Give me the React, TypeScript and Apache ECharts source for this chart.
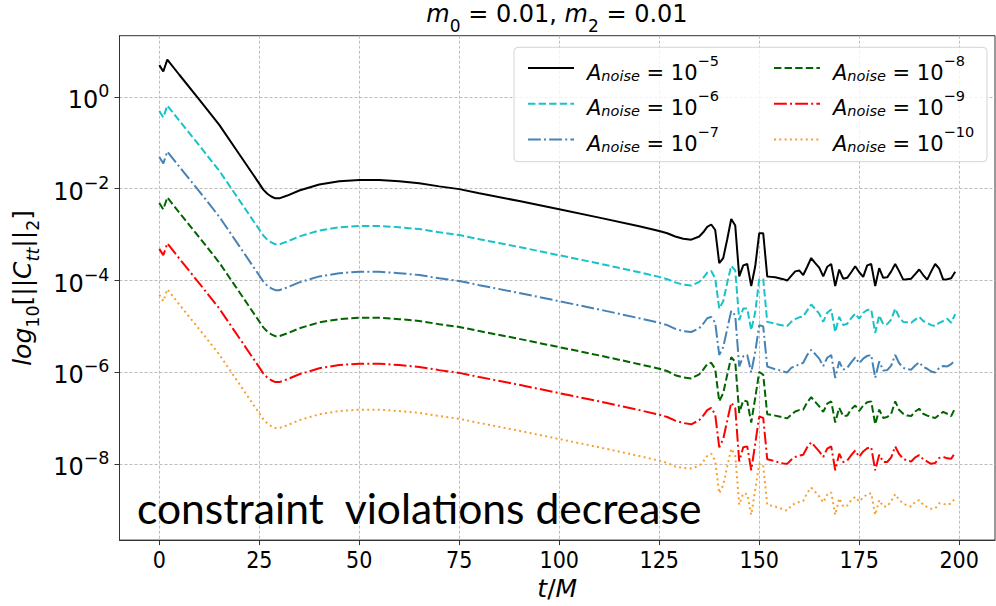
import React, { useEffect, useRef } from 'react';
import * as echarts from 'echarts';

// sample times t/M
const T = [
  0, 1, 2, 5, 10, 15, 20, 25, 26, 27, 28, 29, 30, 32, 35, 40, 45, 50, 55, 60, 65, 70, 75, 80, 90, 100, 110, 120, 125, 127, 129, 131, 133,
  135, 136, 137, 138, 139, 140, 141, 142, 143, 144,
  145, 146, 147, 148, 149, 150, 151, 152, 153, 154,
  155, 156, 157, 158, 159, 160, 161, 162, 163, 164,
  165, 166, 167, 168, 169, 170, 171, 172, 173, 174,
  175, 176, 177, 178, 179, 180, 181, 182, 183, 184,
  185, 186, 187, 188, 189, 190, 191, 192, 193, 194,
  195, 196, 197, 198, 199,
];

// log10 of ||C_tt||_2 for each noise amplitude
const NOISE_1E5 = [
  0.69, 0.55, 0.81, 0.48, -0.06, -0.61, -1.25, -1.89, -2.02, -2.11, -2.17, -2.21, -2.21, -2.15, -2.04, -1.91, -1.84, -1.81, -1.81, -1.84, -1.88, -1.95, -2.01, -2.10, -2.27, -2.45, -2.63, -2.82, -2.92, -2.97, -3.04, -3.09, -3.11,
  -3.04, -2.95, -2.83, -2.78, -2.90, -3.62, -3.51, -3.10, -2.66, -2.80,
  -3.91, -3.67, -3.64, -4.12, -3.69, -2.97, -2.97, -3.91, -3.92, -3.93,
  -3.95, -3.97, -4.00, -3.90, -3.80, -3.78, -3.88, -3.70, -3.51, -3.62,
  -3.72, -3.91, -3.70, -3.64, -4.12, -3.76, -3.96, -3.94, -3.82, -3.69,
  -3.82, -3.92, -3.67, -3.64, -4.12, -3.73, -3.94, -3.93, -3.80, -3.64,
  -3.80, -3.98, -3.97, -3.96, -3.86, -3.76, -3.88, -3.98, -3.80, -3.64,
  -3.74, -3.98, -3.97, -3.95, -3.81,
];
const NOISE_1E6 = [
  -0.31, -0.45, -0.19, -0.52, -1.06, -1.61, -2.25, -2.89, -3.02, -3.11, -3.17, -3.21, -3.21, -3.15, -3.04, -2.91, -2.84, -2.81, -2.81, -2.84, -2.88, -2.95, -3.01, -3.10, -3.27, -3.45, -3.63, -3.82, -3.92, -3.97, -4.04, -4.09, -4.11,
  -4.03, -3.94, -3.83, -3.79, -3.95, -4.61, -4.45, -4.05, -3.68, -3.78,
  -4.86, -4.61, -4.61, -5.08, -4.69, -3.97, -3.97, -4.90, -4.92, -4.94,
  -4.96, -4.98, -4.99, -4.90, -4.84, -4.80, -4.78, -4.65, -4.52, -4.62,
  -4.72, -4.90, -4.70, -4.63, -5.12, -4.79, -4.97, -4.94, -4.82, -4.72,
  -4.83, -4.70, -4.64, -4.63, -5.14, -4.76, -4.95, -4.95, -4.85, -4.61,
  -4.80, -4.90, -4.91, -4.92, -4.85, -4.79, -4.88, -4.92, -4.97, -4.99,
  -4.92, -4.88, -4.83, -4.92, -4.73,
];
const NOISE_1E7 = [
  -1.31, -1.45, -1.19, -1.52, -2.06, -2.61, -3.25, -3.89, -4.02, -4.11, -4.17, -4.21, -4.21, -4.15, -4.04, -3.91, -3.84, -3.81, -3.81, -3.84, -3.88, -3.95, -4.01, -4.10, -4.27, -4.45, -4.63, -4.82, -4.92, -4.97, -5.05, -5.10, -5.12,
  -5.04, -4.94, -4.82, -4.79, -4.92, -5.62, -5.45, -5.05, -4.66, -4.76,
  -5.87, -5.65, -5.62, -6.00, -5.55, -4.97, -5.00, -5.87, -5.90, -5.93,
  -5.95, -5.98, -6.00, -5.90, -5.86, -5.83, -5.79, -5.62, -5.51, -5.60,
  -5.70, -5.86, -5.68, -5.62, -6.12, -5.76, -5.94, -5.90, -5.78, -5.67,
  -5.80, -5.70, -5.64, -5.62, -6.12, -5.76, -5.96, -5.95, -5.85, -5.62,
  -5.80, -5.90, -5.93, -5.94, -5.85, -5.78, -5.88, -5.92, -5.98, -6.00,
  -5.90, -5.86, -5.87, -5.82, -5.73,
];
const NOISE_1E8 = [
  -2.31, -2.45, -2.19, -2.52, -3.06, -3.61, -4.25, -4.89, -5.02, -5.11, -5.17, -5.21, -5.21, -5.15, -5.04, -4.91, -4.84, -4.81, -4.81, -4.84, -4.88, -4.95, -5.01, -5.10, -5.27, -5.45, -5.63, -5.82, -5.92, -5.97, -6.06, -6.11, -6.13,
  -6.04, -5.94, -5.82, -5.79, -5.93, -6.63, -6.45, -6.05, -5.67, -5.77,
  -6.88, -6.61, -6.63, -7.09, -6.55, -5.99, -6.05, -6.91, -6.92, -6.94,
  -6.96, -6.98, -7.00, -6.92, -6.85, -6.82, -6.81, -6.65, -6.54, -6.64,
  -6.74, -6.86, -6.68, -6.63, -7.09, -6.77, -6.95, -6.94, -6.80, -6.72,
  -6.84, -6.72, -6.65, -6.63, -7.13, -6.81, -6.99, -6.97, -6.90, -6.63,
  -6.82, -6.90, -6.94, -6.95, -6.85, -6.79, -6.90, -6.94, -6.97, -6.99,
  -6.92, -6.86, -6.90, -6.95, -6.77,
];
const NOISE_1E9 = [
  -3.31, -3.45, -3.19, -3.52, -4.06, -4.61, -5.25, -5.89, -6.02, -6.11, -6.17, -6.21, -6.21, -6.15, -6.04, -5.91, -5.84, -5.81, -5.81, -5.84, -5.88, -5.95, -6.01, -6.10, -6.27, -6.45, -6.63, -6.82, -6.92, -6.97, -7.05, -7.10, -7.13,
  -7.04, -6.94, -6.82, -6.77, -6.92, -7.63, -7.45, -7.05, -6.66, -6.77,
  -7.94, -7.63, -7.61, -8.13, -7.55, -6.96, -6.99, -7.89, -7.91, -7.94,
  -7.96, -7.98, -7.99, -7.90, -7.84, -7.81, -7.79, -7.63, -7.52, -7.62,
  -7.72, -7.84, -7.66, -7.61, -8.13, -7.77, -7.95, -7.92, -7.80, -7.70,
  -7.84, -7.72, -7.65, -7.63, -8.13, -7.79, -7.95, -7.95, -7.85, -7.61,
  -7.78, -7.88, -7.92, -7.94, -7.85, -7.80, -7.89, -7.94, -7.99, -7.97,
  -7.86, -7.84, -7.87, -7.88, -7.74,
];
const NOISE_1E10 = [
  -4.31, -4.45, -4.19, -4.52, -5.06, -5.61, -6.25, -6.89, -7.02, -7.11, -7.17, -7.21, -7.21, -7.15, -7.04, -6.91, -6.84, -6.81, -6.81, -6.84, -6.88, -6.95, -7.01, -7.10, -7.27, -7.45, -7.63, -7.82, -7.92, -7.97, -8.05, -8.08, -8.09,
  -8.03, -7.94, -7.82, -7.77, -7.92, -8.63, -8.45, -8.05, -7.66, -7.81,
  -8.88, -8.63, -8.65, -9.10, -8.55, -7.99, -8.02, -8.88, -8.90, -8.92,
  -8.95, -8.98, -9.01, -8.90, -8.85, -8.82, -8.80, -8.62, -8.51, -8.60,
  -8.70, -8.83, -8.66, -8.61, -9.10, -8.74, -8.92, -8.90, -8.78, -8.71,
  -8.81, -8.72, -8.65, -8.63, -9.10, -8.78, -8.92, -8.92, -8.80, -8.65,
  -8.78, -8.85, -8.90, -8.92, -8.82, -8.78, -8.88, -8.93, -8.97, -8.96,
  -8.85, -8.86, -8.88, -8.85, -8.74,
];

const SERIES_VALUES = [NOISE_1E5, NOISE_1E6, NOISE_1E7, NOISE_1E8, NOISE_1E9, NOISE_1E10];
const SERIES_EXPONENTS = ['−5', '−6', '−7', '−8', '−9', '−10'];
const SERIES_NAMES = SERIES_EXPONENTS.map((e) => 'A_noise = 10^' + e);
const SERIES_COLORS = ['#000000', '#17c3c8', '#4682b4', '#006400', '#ff0000', '#f7a030'];
const SERIES_DASH: any[] = ['solid', [7.4, 3.2], [12.8, 3.2, 2, 3.2], [7.4, 3.2], [12.8, 3.2, 2, 3.2], [2, 3.3]];

const X_TICKS = [0, 25, 50, 75, 100, 125, 150, 175, 200];
const Y_TICKS = [0, -2, -4, -6, -8];

const FONT = 'DejaVu Sans';

export default function App() {
  const ref = useRef<HTMLDivElement>(null);

  useEffect(() => {
    if (!ref.current) return;
    const chart = echarts.init(ref.current, null, { renderer: 'svg' });

    const legendRich = {
      a: { fontFamily: FONT, fontSize: 21, fontStyle: 'italic', lineHeight: 30, verticalAlign: 'bottom', color: '#000' },
      sub: { fontFamily: FONT, fontSize: 14.5, fontStyle: 'italic', lineHeight: 17, verticalAlign: 'bottom', color: '#000' },
      n: { fontFamily: FONT, fontSize: 21, lineHeight: 30, verticalAlign: 'bottom', color: '#000' },
      sup: { fontFamily: FONT, fontSize: 14.5, lineHeight: 14, verticalAlign: 'top', color: '#000' },
    };
    const legendFormatter = (name: string) => {
      const idx = SERIES_NAMES.indexOf(name);
      return '{a|A}{sub|noise}{n| = 10}{sup|' + SERIES_EXPONENTS[idx] + '}';
    };
    const legendBase = {
      orient: 'vertical',
      top: 48,
      itemWidth: 46,
      itemHeight: 14,
      itemGap: 5.8,
      selectedMode: false,
      formatter: legendFormatter,
      itemStyle: { opacity: 0 },
      textStyle: { rich: legendRich, padding: [0, 0, 0, 8] },
    };

    const option: any = {
      animation: false,
      backgroundColor: '#ffffff',
      grid: {
        left: 119.5,
        right: 1,
        top: 35.7,
        bottom: 61,
        show: true,
        borderColor: '#333',
        borderWidth: 1,
        backgroundColor: 'transparent',
      },
      xAxis: {
        type: 'value',
        min: -9.95,
        max: 208.95,
        name: '{i|t}{n|/}{i|M}',
        nameLocation: 'middle',
        nameGap: 33,
        nameTextStyle: {
          rich: {
            i: { fontFamily: FONT, fontSize: 25, fontStyle: 'italic', color: '#000' },
            n: { fontFamily: FONT, fontSize: 25, color: '#000' },
          },
        },
        axisLine: { show: true, onZero: false, lineStyle: { color: '#333', width: 1 } },
        axisTick: { show: true, length: 5, inside: false, customValues: X_TICKS, lineStyle: { color: '#333' } },
        axisLabel: {
          customValues: X_TICKS,
          margin: 8,
          fontFamily: '"DejaVu Sans Condensed", "DejaVu Sans"',
          fontSize: 23,
          color: '#000',
        },
        splitLine: { show: true, lineStyle: { color: '#bdbdbd', type: [3, 2], width: 1 } },
      },
      yAxis: {
        type: 'value',
        min: -9.65,
        max: 1.33,
        name: '{i|log}{s|10}{n|[||}{i|C}{si|tt}{n|||}{s|2}{n|]}',
        nameLocation: 'middle',
        nameRotate: 90,
        nameGap: 77,
        nameTextStyle: {
          rich: {
            i: { fontFamily: FONT, fontSize: 25, fontStyle: 'italic', lineHeight: 32, verticalAlign: 'top', color: '#000' },
            n: { fontFamily: FONT, fontSize: 25, lineHeight: 32, verticalAlign: 'top', color: '#000' },
            s: { fontFamily: FONT, fontSize: 17.5, lineHeight: 17, verticalAlign: 'bottom', color: '#000' },
            si: { fontFamily: FONT, fontSize: 17.5, fontStyle: 'italic', lineHeight: 17, verticalAlign: 'bottom', color: '#000' },
          },
        },
        axisLine: { show: true, onZero: false, lineStyle: { color: '#333', width: 1 } },
        axisTick: { show: true, length: 5, inside: false, customValues: Y_TICKS, lineStyle: { color: '#333' } },
        axisLabel: {
          customValues: Y_TICKS,
          margin: 10,
          formatter: (v: number) => '{b|10}{s|' + (v === 0 ? '0' : '−' + Math.abs(v)) + '}',
          rich: {
            b: { fontFamily: FONT, fontSize: 24, lineHeight: 30, verticalAlign: 'bottom', color: '#000' },
            s: { fontFamily: FONT, fontSize: 17.5, lineHeight: 16, verticalAlign: 'top', color: '#000' },
          },
        },
        splitLine: { show: true, lineStyle: { color: '#bdbdbd', type: [3, 2], width: 1 } },
      },
      legend: [
        { ...legendBase, left: 522, data: SERIES_NAMES.slice(0, 3) },
        { ...legendBase, left: 768, data: SERIES_NAMES.slice(3) },
      ],
      graphic: [
        {
          type: 'rect',
          z: 3,
          shape: { x: 514, y: 47.3, width: 473, height: 114.4, r: 4 },
          style: { fill: 'rgba(255,255,255,0.8)', stroke: '#d4d4d4', lineWidth: 1 },
        },
        {
          type: 'text',
          z: 5,
          style: {
            x: 557,
            y: 18,
            text: '{i|m}{s|0}{n| = 0.01, }{i|m}{s|2}{n| = 0.01}',
            align: 'center',
            verticalAlign: 'middle',
            textAlign: 'center',
            textVerticalAlign: 'middle',
            rich: {
              i: { fontFamily: FONT, fontSize: 24, fontStyle: 'italic', lineHeight: 32, verticalAlign: 'top', fill: '#000' },
              n: { fontFamily: FONT, fontSize: 24, lineHeight: 32, verticalAlign: 'top', fill: '#000' },
              s: { fontFamily: FONT, fontSize: 17, lineHeight: 17, verticalAlign: 'bottom', fill: '#000' },
            },
          },
        },
        {
          type: 'text',
          z: 5,
          style: {
            x: 137,
            y: 507,
            text: 'constraint  violations decrease',
            font: '42.6px Lato',
            fill: '#000',
            align: 'left',
            verticalAlign: 'middle',
            textAlign: 'left',
            textVerticalAlign: 'middle',
          },
        },
      ],
      series: SERIES_VALUES.map((vals, k) => ({
        type: 'line',
        name: SERIES_NAMES[k],
        data: T.map((t, i) => [t, vals[i]]),
        symbol: 'none',
        showSymbol: false,
        color: SERIES_COLORS[k],
        lineStyle: { color: SERIES_COLORS[k], width: 2, type: SERIES_DASH[k] },
        z: 2 + (6 - k) * 0.01,
      })),
    };

    chart.setOption(option);
    return () => chart.dispose();
  }, []);

  return (
    <div
      ref={ref}
      style={{ position: 'fixed', left: 0, top: 0, width: 996, height: 606, background: '#fff' }}
    />
  );
}
